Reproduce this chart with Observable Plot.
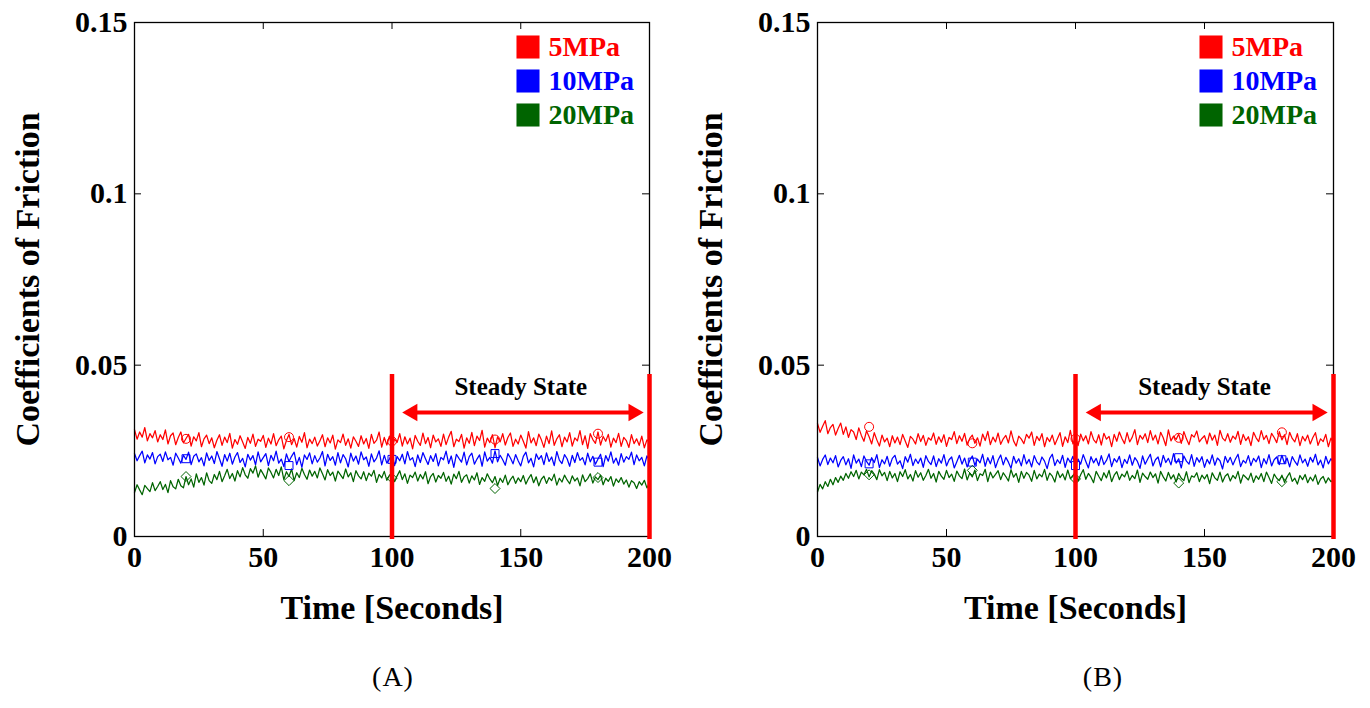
<!DOCTYPE html>
<html><head><meta charset="utf-8">
<script src="https://cdn.jsdelivr.net/npm/d3@7"></script>
<script src="https://cdn.jsdelivr.net/npm/@observablehq/plot@0.6"></script>
<style>
body{margin:0;background:#fff;width:1370px;height:708px;overflow:hidden;position:relative}
#wrap{position:absolute;left:0;top:0;display:flex}
.cap{position:absolute;top:677px;transform:translate(-50%,-50%);font-family:"Liberation Serif",serif;font-size:28px;letter-spacing:1px;color:#000;white-space:nowrap}
</style></head><body>
<div id="wrap"></div>
<div class="cap" id="capA" style="left:393px"></div>
<div class="cap" id="capB" style="left:1103px"></div>
<script>
// ---------- data ----------
const seriesNames = ["5MPa", "10MPa", "20MPa"];
const seriesColors = ["#ff0000", "#0000ff", "#006400"];
const markerSymbols = ["circle", "square", "diamond2"];
const xTicks = [0, 50, 100, 150, 200];
const xTickLabels = ["0", "50", "100", "150", "200"];
const yTicks = [0, 0.05, 0.1, 0.15];
const yTickLabels = ["0", "0.05", "0.1", "0.15"];
const xTitle = "Time [Seconds]";
const yTitle = "Coefficients of Friction";
const steadyLabel = "Steady State";
const steadyBounds = [100, 200];
const steadyArrow = [104, 197.7];
const captions = ["(A)", "(B)"];
const time = d3.range(0, 201); // sampling grid, 1 s
const markerTimes = [20, 60, 100, 140, 180];

const redA = [.0312,.0284,.0305,.0290,.0318,.0279,.0300,.0288,.0309,.0276,
.0297,.0283,.0311,.0270,.0294,.0302,.0268,.0289,.0305,.0273,
.0286,.0298,.0264,.0291,.0279,.0303,.0262,.0285,.0296,.0271,
.0288,.0259,.0281,.0297,.0266,.0290,.0274,.0301,.0258,.0283,
.0269,.0294,.0276,.0257,.0289,.0272,.0299,.0263,.0284,.0278,
.0295,.0260,.0287,.0270,.0300,.0265,.0282,.0293,.0256,.0280,
.0298,.0268,.0286,.0261,.0292,.0275,.0303,.0259,.0284,.0271,
.0290,.0264,.0279,.0297,.0262,.0288,.0273,.0296,.0255,.0282,
.0274,.0299,.0266,.0285,.0258,.0291,.0278,.0263,.0294,.0270,
.0286,.0257,.0298,.0272,.0281,.0305,.0261,.0289,.0267,.0293,
.0260,.0284,.0275,.0300,.0264,.0291,.0270,.0287,.0256,.0295,
.0278,.0266,.0302,.0271,.0289,.0259,.0296,.0276,.0285,.0263,
.0299,.0268,.0290,.0307,.0262,.0284,.0277,.0298,.0258,.0288,
.0272,.0304,.0265,.0293,.0280,.0310,.0261,.0287,.0274,.0297,
.0259,.0291,.0276,.0300,.0267,.0289,.0302,.0263,.0284,.0270,
.0296,.0278,.0258,.0306,.0273,.0288,.0265,.0299,.0282,.0260,
.0293,.0271,.0308,.0266,.0285,.0297,.0262,.0290,.0276,.0303,
.0264,.0288,.0279,.0309,.0268,.0294,.0257,.0300,.0283,.0272,
.0305,.0267,.0292,.0278,.0298,.0261,.0287,.0274,.0301,.0263,
.0289,.0280,.0260,.0297,.0271,.0285,.0266,.0293,.0259,.0282,
.0275];

const blueA = [.0242,.0221,.0236,.0249,.0215,.0238,.0226,.0245,.0212,.0233,
.0240,.0219,.0247,.0224,.0231,.0208,.0243,.0229,.0214,.0237,
.0225,.0246,.0210,.0234,.0241,.0218,.0230,.0206,.0244,.0222,
.0235,.0213,.0248,.0227,.0205,.0239,.0220,.0243,.0211,.0232,
.0245,.0216,.0228,.0203,.0240,.0223,.0236,.0209,.0247,.0218,
.0230,.0242,.0207,.0237,.0221,.0249,.0214,.0226,.0204,.0241,
.0219,.0234,.0246,.0210,.0231,.0202,.0238,.0225,.0244,.0212,
.0236,.0217,.0229,.0248,.0206,.0240,.0222,.0233,.0208,.0245,
.0215,.0239,.0227,.0203,.0243,.0220,.0235,.0211,.0247,.0224,
.0232,.0205,.0241,.0218,.0229,.0250,.0209,.0237,.0214,.0226,
.0244,.0207,.0233,.0221,.0240,.0212,.0248,.0223,.0230,.0204,
.0238,.0216,.0245,.0227,.0210,.0236,.0219,.0242,.0206,.0231,
.0224,.0249,.0213,.0235,.0202,.0240,.0228,.0217,.0246,.0209,
.0233,.0243,.0211,.0226,.0238,.0205,.0247,.0220,.0231,.0214,
.0250,.0218,.0237,.0224,.0208,.0242,.0229,.0212,.0239,.0221,
.0206,.0234,.0246,.0215,.0228,.0203,.0241,.0225,.0236,.0210,
.0244,.0219,.0232,.0207,.0248,.0223,.0213,.0239,.0227,.0205,
.0237,.0216,.0245,.0222,.0230,.0209,.0243,.0218,.0234,.0211,
.0226,.0240,.0204,.0236,.0220,.0247,.0214,.0229,.0208,.0242,
.0217,.0233,.0225,.0246,.0210,.0238,.0221,.0231,.0206,.0235,
.0223];

const greenA = [.0128,.0151,.0136,.0122,.0149,.0140,.0131,.0157,.0134,.0146,
.0160,.0137,.0152,.0128,.0163,.0145,.0139,.0167,.0148,.0142,
.0175,.0151,.0168,.0144,.0183,.0158,.0172,.0150,.0186,.0163,
.0155,.0181,.0166,.0190,.0160,.0177,.0196,.0169,.0184,.0162,
.0192,.0174,.0201,.0180,.0170,.0198,.0185,.0206,.0173,.0195,
.0182,.0168,.0200,.0187,.0171,.0196,.0178,.0203,.0166,.0189,
.0175,.0197,.0163,.0186,.0172,.0199,.0181,.0167,.0194,.0176,
.0190,.0171,.0200,.0183,.0165,.0195,.0178,.0188,.0162,.0191,
.0180,.0169,.0197,.0174,.0186,.0160,.0192,.0177,.0168,.0189,
.0163,.0185,.0176,.0193,.0158,.0181,.0171,.0190,.0164,.0179,
.0186,.0160,.0177,.0192,.0166,.0183,.0155,.0179,.0172,.0188,
.0162,.0181,.0168,.0189,.0154,.0175,.0184,.0159,.0178,.0170,
.0187,.0161,.0176,.0153,.0182,.0169,.0190,.0158,.0174,.0180,
.0156,.0177,.0165,.0186,.0152,.0172,.0161,.0183,.0168,.0157,
.0175,.0149,.0170,.0158,.0179,.0151,.0166,.0176,.0155,.0171,
.0160,.0178,.0153,.0169,.0181,.0157,.0174,.0148,.0167,.0176,
.0155,.0172,.0163,.0182,.0150,.0170,.0159,.0179,.0165,.0154,
.0177,.0162,.0171,.0148,.0180,.0160,.0169,.0183,.0156,.0174,
.0166,.0179,.0151,.0170,.0161,.0175,.0147,.0168,.0158,.0172,
.0153,.0165,.0144,.0163,.0157,.0140,.0160,.0150,.0164,.0142,
.0155];

const redB = [.0330,.0304,.0322,.0338,.0300,.0318,.0327,.0296,.0315,.0331,
.0298,.0320,.0289,.0312,.0305,.0283,.0317,.0295,.0278,.0308,
.0291,.0270,.0303,.0282,.0264,.0296,.0276,.0287,.0262,.0294,
.0273,.0290,.0268,.0298,.0279,.0260,.0292,.0284,.0270,.0300,
.0277,.0295,.0266,.0288,.0281,.0302,.0269,.0291,.0275,.0297,
.0263,.0289,.0283,.0306,.0271,.0294,.0278,.0301,.0267,.0286,
.0296,.0272,.0288,.0264,.0299,.0280,.0307,.0268,.0290,.0276,
.0302,.0269,.0285,.0295,.0273,.0308,.0279,.0264,.0293,.0284,
.0271,.0298,.0287,.0305,.0266,.0292,.0280,.0300,.0262,.0289,
.0277,.0296,.0268,.0285,.0303,.0263,.0291,.0274,.0310,.0270,
.0288,.0265,.0299,.0279,.0294,.0270,.0306,.0283,.0273,.0297,
.0267,.0301,.0284,.0292,.0262,.0298,.0278,.0305,.0286,.0271,
.0303,.0276,.0290,.0312,.0268,.0295,.0284,.0300,.0274,.0309,
.0281,.0296,.0270,.0304,.0288,.0265,.0311,.0279,.0293,.0283,
.0299,.0272,.0306,.0285,.0268,.0297,.0290,.0308,.0276,.0286,
.0294,.0270,.0302,.0281,.0296,.0266,.0310,.0287,.0279,.0300,
.0275,.0293,.0284,.0307,.0269,.0298,.0280,.0291,.0265,.0304,
.0288,.0277,.0309,.0283,.0295,.0271,.0301,.0289,.0274,.0306,
.0282,.0297,.0268,.0304,.0286,.0276,.0300,.0265,.0292,.0279,
.0296,.0270,.0289,.0303,.0266,.0285,.0277,.0298,.0262,.0287,
.0274];

const blueB = [.0231,.0206,.0225,.0238,.0210,.0229,.0215,.0236,.0203,.0222,
.0233,.0209,.0227,.0199,.0238,.0214,.0226,.0204,.0235,.0219,
.0208,.0230,.0216,.0239,.0201,.0224,.0212,.0234,.0205,.0228,
.0237,.0211,.0221,.0198,.0233,.0217,.0240,.0207,.0226,.0213,
.0229,.0202,.0236,.0219,.0210,.0235,.0204,.0227,.0214,.0239,
.0206,.0224,.0232,.0200,.0218,.0237,.0211,.0229,.0203,.0222,
.0235,.0208,.0226,.0215,.0240,.0205,.0230,.0212,.0236,.0201,
.0223,.0238,.0209,.0231,.0217,.0199,.0234,.0214,.0227,.0206,
.0239,.0212,.0225,.0203,.0236,.0218,.0209,.0232,.0220,.0198,
.0228,.0240,.0207,.0224,.0213,.0237,.0202,.0229,.0216,.0234,
.0205,.0226,.0211,.0239,.0219,.0200,.0233,.0215,.0228,.0207,
.0236,.0210,.0222,.0241,.0204,.0227,.0217,.0234,.0201,.0225,
.0213,.0238,.0208,.0230,.0219,.0199,.0235,.0211,.0226,.0240,
.0206,.0224,.0232,.0203,.0237,.0216,.0228,.0209,.0242,.0214,
.0227,.0200,.0235,.0220,.0211,.0239,.0205,.0230,.0217,.0233,
.0202,.0225,.0212,.0238,.0208,.0229,.0221,.0197,.0234,.0216,
.0231,.0209,.0226,.0240,.0204,.0222,.0214,.0236,.0207,.0228,
.0218,.0235,.0201,.0227,.0212,.0239,.0206,.0224,.0232,.0210,
.0237,.0213,.0229,.0203,.0233,.0219,.0208,.0238,.0215,.0226,
.0205,.0231,.0217,.0240,.0209,.0223,.0200,.0234,.0212,.0227,
.0216];

const greenB = [.0130,.0152,.0139,.0160,.0146,.0167,.0151,.0172,.0158,.0176,
.0164,.0184,.0170,.0189,.0175,.0193,.0168,.0188,.0180,.0196,
.0174,.0192,.0182,.0166,.0195,.0177,.0187,.0163,.0190,.0171,
.0184,.0160,.0189,.0175,.0195,.0168,.0181,.0162,.0192,.0173,
.0186,.0164,.0178,.0196,.0170,.0184,.0159,.0190,.0176,.0167,
.0193,.0172,.0182,.0161,.0191,.0177,.0169,.0197,.0165,.0185,
.0174,.0194,.0163,.0183,.0178,.0196,.0160,.0188,.0171,.0181,
.0192,.0166,.0186,.0175,.0162,.0195,.0173,.0184,.0158,.0190,
.0170,.0187,.0179,.0161,.0193,.0168,.0182,.0174,.0196,.0164,
.0185,.0176,.0159,.0191,.0172,.0183,.0165,.0194,.0169,.0178,
.0188,.0162,.0180,.0195,.0167,.0184,.0173,.0157,.0190,.0176,
.0163,.0186,.0171,.0193,.0160,.0179,.0189,.0166,.0182,.0174,
.0191,.0164,.0178,.0169,.0194,.0158,.0185,.0175,.0167,.0188,
.0172,.0183,.0156,.0190,.0174,.0162,.0187,.0168,.0180,.0159,
.0184,.0170,.0163,.0189,.0157,.0177,.0173,.0186,.0160,.0179,
.0168,.0181,.0154,.0186,.0171,.0164,.0188,.0159,.0176,.0183,
.0162,.0178,.0169,.0190,.0156,.0180,.0173,.0165,.0185,.0158,
.0177,.0167,.0184,.0160,.0188,.0172,.0155,.0182,.0170,.0163,
.0179,.0158,.0174,.0186,.0161,.0170,.0153,.0178,.0166,.0181,
.0157,.0173,.0162,.0180,.0152,.0168,.0175,.0156,.0171,.0160,
.0164];

// open markers at t = 20, 60, 100, 140, 180
const redMarkA = [.0285, .0290, .0278, .0283, .0300];
const blueMarkA = [.0227, .0207, .0225, .0242, .0217];
const greenMarkA = [.0175, .0163, .0170, .0140, .0172];
const redMarkB = [.0320, .0272, .0285, .0288, .0304];
const blueMarkB = [.0212, .0217, .0207, .0230, .0224];
const greenMarkB = [.0180, .0193, .0168, .0156, .0160];

// ---------- drawing ----------
function panel(lines, marks, width, marginRight) {
  const rows = [];
  lines.forEach((vals, k) => vals.forEach((v, i) => rows.push({t: time[i], v, name: seriesNames[k]})));
  const mrows = [];
  marks.forEach((vals, k) => vals.forEach((v, i) => mrows.push({t: markerTimes[i], v, name: seriesNames[k]})));
  const innerW = width - 134 - marginRight;
  const innerH = 640 - 22 - 104;
  const legend = [];
  seriesNames.forEach((n, i) => {
    legend.push(Plot.dot([n], {frameAnchor: "top-left", dx: 393.5, dy: 24.5 + 34 * i, symbol: "square", r: 13, fill: seriesColors[i], stroke: "none"}));
    legend.push(Plot.text([n], {frameAnchor: "top-left", dx: 414, dy: 25 + 34 * i, text: d => d, fill: seriesColors[i], textAnchor: "start", lineAnchor: "middle", fontSize: 28}));
  });
  const inner = [50, 100, 150];
  const innerY = [0.05, 0.1];
  return Plot.plot({
    width, height: 640,
    marginLeft: 134, marginRight, marginTop: 22, marginBottom: 104,
    x: {domain: [0, 200]},
    y: {domain: [0, 0.15]},
    color: {domain: seriesNames, range: seriesColors},
    symbol: {domain: seriesNames, range: markerSymbols},
    style: {fontFamily: "'Liberation Serif', 'Times New Roman', serif", fontWeight: "bold", background: "#fff", color: "#000", overflow: "visible"},
    marks: [
      Plot.line(rows, {x: "t", y: "v", z: "name", stroke: "name", strokeWidth: 1.25}),
      Plot.dot(mrows, {x: "t", y: "v", stroke: "name", symbol: "name", fill: "none", r: 4.5, strokeWidth: 1}),
      Plot.frame({stroke: "#000", strokeWidth: 1.3}),
      Plot.ruleX(inner, {insetTop: innerH - 7, stroke: "#000"}),
      Plot.ruleX(inner, {insetBottom: innerH - 7, stroke: "#000"}),
      Plot.ruleY(innerY, {insetRight: innerW - 7, stroke: "#000"}),
      Plot.ruleY(innerY, {insetLeft: innerW - 7, stroke: "#000"}),
      Plot.axisX({ticks: xTicks, tickSize: 0, tickPadding: 9, tickFormat: (d, i) => xTickLabels[i], label: null, fontSize: 30}),
      Plot.axisY({ticks: yTicks, tickSize: 0, tickPadding: 7, tickFormat: (d, i) => yTickLabels[i], label: null, fontSize: 30}),
      Plot.ruleX(steadyBounds, {y1: 0.0473, y2: -0.0009, stroke: "#ff0000", strokeWidth: 4.5}),
      Plot.link([steadyArrow], {x1: d => d[0] + 3, x2: d => d[1] - 3, y1: 0.0362, y2: 0.0362, stroke: "#ff0000", strokeWidth: 4}),
      Plot.dot([steadyArrow[0]], {x: d => d, y: 0.0362, symbol: "triangle", rotate: -90, r: 6.5, fill: "#ff0000", dx: 10}),
      Plot.dot([steadyArrow[1]], {x: d => d, y: 0.0362, symbol: "triangle", rotate: 90, r: 6.5, fill: "#ff0000", dx: -10}),
      Plot.text([steadyLabel], {x: (steadyBounds[0] + steadyBounds[1]) / 2, y: 0.0435, text: d => d, fontSize: 25, lineAnchor: "middle"}),
      ...legend,
      Plot.text([yTitle], {frameAnchor: "left", dx: -106, rotate: -90, text: d => d, fontSize: 34, textAnchor: "middle", lineAnchor: "middle"}),
      Plot.text([xTitle], {frameAnchor: "bottom", dy: 72, text: d => d, fontSize: 34, lineAnchor: "middle"})
    ]
  });
}

const wrap = document.getElementById("wrap");
wrap.appendChild(panel([redA, blueA, greenA], [redMarkA, blueMarkA, greenMarkA], 683, 34));
wrap.appendChild(panel([redB, blueB, greenB], [redMarkB, blueMarkB, greenMarkB], 687, 37));
document.getElementById("capA").textContent = captions[0];
document.getElementById("capB").textContent = captions[1];
</script>
</body></html>
